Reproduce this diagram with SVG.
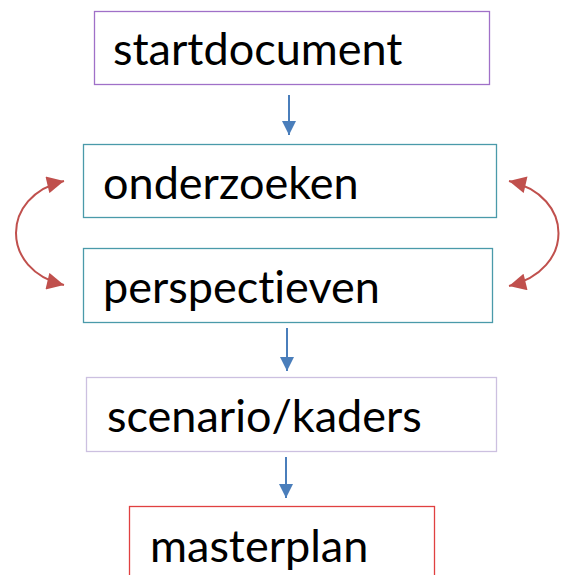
<svg xmlns="http://www.w3.org/2000/svg" width="568" height="575" viewBox="0 0 568 575">
<defs>
<style>
.box{fill:#fff;stroke-width:1.3}
.t{font-family:Lato,"Open Sans","Liberation Sans",sans-serif;font-size:45px;fill:#000;font-variant-ligatures:none}
.blue{stroke:#4a7ebb;stroke-width:2;fill:none}
.red{stroke:#c0504d;stroke-width:2;fill:none}
</style>
<marker id="ab" viewBox="0 0 10 10" refX="10" refY="5" markerWidth="7.5" markerHeight="7" markerUnits="strokeWidth" orient="auto"><path d="M0 0L10 5L0 10z" fill="#4a7ebb"/></marker>
<marker id="ar" viewBox="0 0 10 10" refX="10" refY="5" markerWidth="9" markerHeight="8.5" markerUnits="strokeWidth" orient="auto-start-reverse"><path d="M0 0L10 5L0 10z" fill="#c0504d"/></marker>
</defs>
<g id="n1"><rect class="box" x="94.5" y="11.5" width="395" height="73" stroke="#a070c8"/><text class="t" x="113" y="65">startdocument</text></g>
<g id="n2"><rect class="box" x="83.5" y="144.5" width="413" height="73" stroke="#4a9aaa"/><text class="t" x="103" y="199">onderzoeken</text></g>
<g id="n3"><rect class="box" x="83.5" y="248.5" width="409" height="74" stroke="#4a9aaa"/><text class="t" x="103" y="303">perspectieven</text></g>
<g id="n4"><rect class="box" x="86.5" y="377.5" width="410" height="74" stroke="#ccc0e0"/><text class="t" x="107" y="432">scenario/kaders</text></g>
<g id="n5"><rect class="box" x="129.5" y="506.5" width="305" height="80" stroke="#e04040"/><text class="t" x="150" y="562">masterplan</text></g>
<g id="connectors">
<line class="blue" x1="289" y1="95" x2="289" y2="135" marker-end="url(#ab)"/>
<line class="blue" x1="287" y1="328" x2="287" y2="371" marker-end="url(#ab)"/>
<line class="blue" x1="286" y1="457" x2="286" y2="498" marker-end="url(#ab)"/>
<path class="red" d="M64 181 C0 196 0 270 64 285" marker-start="url(#ar)" marker-end="url(#ar)"/>
<path class="red" d="M509 181 C575 196 575 270 509 286" marker-start="url(#ar)" marker-end="url(#ar)"/>
</g>
</svg>
